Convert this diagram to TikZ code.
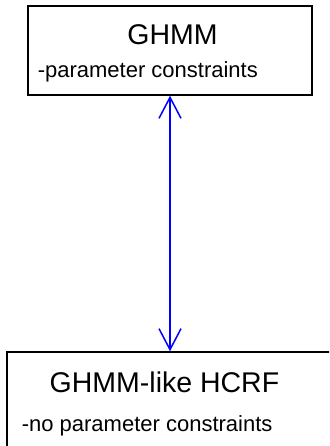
\documentclass[tikz,border=0pt]{standalone}
\usepackage{fontspec}
\setmainfont{Liberation Sans}
\usetikzlibrary{arrows.meta}

\begin{document}
\begin{tikzpicture}[x=1pt,y=1pt]
\tikzstyle{modelbox}=[rectangle,draw=black,line width=1.5pt,inner sep=0pt]
\tikzstyle{title}=[anchor=base,inner sep=0pt,font=\fontsize{28.5}{30}\selectfont]
\tikzstyle{note}=[anchor=base west,inner sep=0pt,font=\fontsize{22}{24}\selectfont]
\tikzstyle{link}=[draw=blue,line width=1.5pt,{Straight Barb[length=21pt,width=22pt]}-{Straight Barb[length=21pt,width=22pt]}]
\useasboundingbox (0,0) rectangle (329,446);
\clip (0,0) rectangle (329,446);
\node [modelbox,minimum width=284pt,minimum height=89pt] (ghmm) at (170,395.5) {};
\node [modelbox,minimum width=326pt,minimum height=100pt] (hcrf) at (170,44) {};
\node [title] (ghmmtitle) at (172.5,401) {GHMM};
\node [note] (ghmmnote) at (37.6,368) {-parameter constraints};
\node [title] (hcrftitle) at (164.5,53) {GHMM-like HCRF};
\node [note] (hcrfnote) at (21.6,14) {-no parameter constraints};
\draw [link] (ghmm.south) -- (hcrf.north);
\end{tikzpicture}
\end{document}
